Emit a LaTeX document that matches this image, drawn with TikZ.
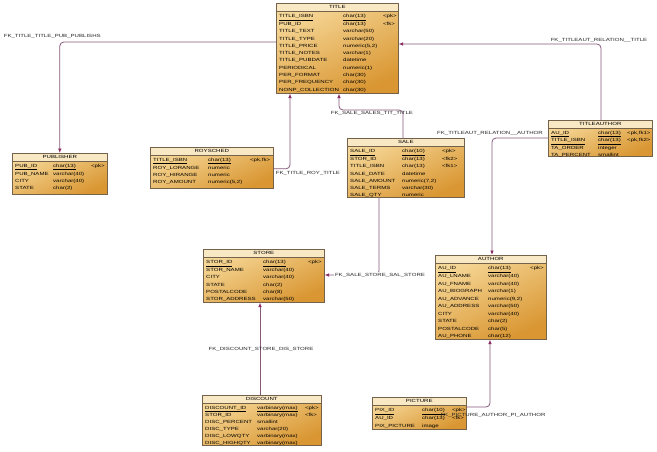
\documentclass[tikz,border=0pt]{standalone}
\usepackage{fontspec}
\newfontfamily\erfont{Liberation Sans}[FakeStretch=1.35]
\usetikzlibrary{arrows.meta}
\definecolor{boxtop}{HTML}{F6D898}
\definecolor{boxbot}{HTML}{D99632}
\definecolor{hdrfill}{HTML}{F8E8C4}
\definecolor{boxline}{HTML}{75624A}
\definecolor{fkline}{HTML}{86597C}
\definecolor{fkarrow}{HTML}{8A2A62}
\newcommand{\pkul}[1]{\underline{#1}}
\tikzset{
  tbl/.style={draw=boxline, line width=0.6pt, top color=boxtop, bottom color=boxbot, shading angle=25, anchor=north west, inner sep=0pt},
  hdr/.style={draw=boxline, line width=0.6pt, fill=hdrfill, anchor=north, minimum height=7.5pt, inner sep=0pt, font=\erfont\fontsize{4.5}{5}\selectfont},
  ertab/.style={anchor=north west, inner sep=0pt, align=left, font=\erfont\fontsize{4.5}{#1}\selectfont},
  fk/.style={draw=fkline, line width=0.8pt, rounded corners=4pt, -{Latex[length=4.5pt,width=3.6pt,color=fkarrow]}},
  fklbl/.style={font=\erfont\fontsize{4.5}{5}\selectfont, inner sep=0.6pt, text=black!85}
}
\begin{document}
\begin{tikzpicture}[x=1pt,y=-1pt]
\useasboundingbox[fill=white] (0,0) rectangle (657,451);

% ---------- TITLE ----------
\node[tbl, minimum width=122pt, minimum height=90pt] (title) at (276,3) {};
\node[hdr, minimum width=122pt] (titlehdr) at (title.north) {TITLE};
\node[ertab=7.3] (titlerows) at ([xshift=3pt,yshift=-1pt]titlehdr.south west) {%
\begin{tabular}{@{}p{64pt}@{}p{40pt}@{}l@{}}
\pkul{TITLE\_ISBN} & \pkul{char(13)} & <pk>\\
PUB\_ID & char(13) & <fk>\\
TITLE\_TEXT & varchar(50) & \\
TITLE\_TYPE & varchar(20) & \\
TITLE\_PRICE & numeric(5,2) & \\
TITLE\_NOTES & varchar(1) & \\
TITLE\_PUBDATE & datetime & \\
PERIODICAL & numeric(1) & \\
PER\_FORMAT & char(30) & \\
PER\_FREQUENCY & char(30) & \\
NONP\_COLLECTION & char(30) & \\
\end{tabular}};

% ---------- PUBLISHER ----------
\node[tbl, minimum width=95pt, minimum height=41pt] (publisher) at (12,153) {};
\node[hdr, minimum width=95pt] (publisherhdr) at (publisher.north) {PUBLISHER};
\node[ertab=7] (publisherrows) at ([xshift=3pt,yshift=-1pt]publisherhdr.south west) {%
\begin{tabular}{@{}p{38pt}@{}p{38pt}@{}l@{}}
\pkul{PUB\_ID} & \pkul{char(13)} & <pk>\\
PUB\_NAME & varchar(40) & \\
CITY & varchar(40) & \\
STATE & char(2) & \\
\end{tabular}};

% ---------- ROYSCHED ----------
\node[tbl, minimum width=123pt, minimum height=41pt] (roysched) at (150,147) {};
\node[hdr, minimum width=123pt] (roysr) at (roysched.north) {ROYSCHED};
\node[ertab=7] (royschedrows) at ([xshift=3pt,yshift=-1pt]roysr.south west) {%
\begin{tabular}{@{}p{55pt}@{}p{42pt}@{}l@{}}
\pkul{TITLE\_ISBN} & \pkul{char(13)} & <pk,fk>\\
ROY\_LORANGE & numeric & \\
ROY\_HIRANGE & numeric & \\
ROY\_AMOUNT & numeric(5,2) & \\
\end{tabular}};

% ---------- SALE ----------
\node[tbl, minimum width=117pt, minimum height=59pt] (sale) at (347,138) {};
\node[hdr, minimum width=117pt] (salehdr) at (sale.north) {SALE};
\node[ertab=7.3] (salerows) at ([xshift=3pt,yshift=-1pt]salehdr.south west) {%
\begin{tabular}{@{}p{52pt}@{}p{40pt}@{}l@{}}
\pkul{SALE\_ID} & \pkul{char(10)} & <pk>\\
STOR\_ID & char(13) & <fk2>\\
TITLE\_ISBN & char(13) & <fk1>\\
SALE\_DATE & datetime & \\
SALE\_AMOUNT & numeric(7,2) & \\
SALE\_TERMS & varchar(30) & \\
SALE\_QTY & numeric & \\
\end{tabular}};

% ---------- TITLEAUTHOR ----------
\node[tbl, minimum width=104pt, minimum height=36pt] (titleauthor) at (548,120) {};
\node[hdr, minimum width=104pt] (tahdr) at (titleauthor.north) {TITLEAUTHOR};
\node[ertab=6.8] (tarows) at ([xshift=3pt,yshift=-1pt]tahdr.south west) {%
\begin{tabular}{@{}p{47pt}@{}p{29pt}@{}l@{}}
\pkul{AU\_ID} & \pkul{char(13)} & <pk,fk1>\\
\pkul{TITLE\_ISBN} & \pkul{char(13)} & <pk,fk2>\\
TA\_ORDER & integer & \\
TA\_PERCENT & smallint & \\
\end{tabular}};

% ---------- STORE ----------
\node[tbl, minimum width=121pt, minimum height=53pt] (store) at (203,249) {};
\node[hdr, minimum width=121pt] (storehdr) at (store.north) {STORE};
\node[ertab=7.3] (storerows) at ([xshift=3pt,yshift=-1pt]storehdr.south west) {%
\begin{tabular}{@{}p{57pt}@{}p{45pt}@{}l@{}}
\pkul{STOR\_ID} & \pkul{char(13)} & <pk>\\
STOR\_NAME & varchar(40) & \\
CITY & varchar(40) & \\
STATE & char(2) & \\
POSTALCODE & char(8) & \\
STOR\_ADDRESS & varchar(50) & \\
\end{tabular}};

% ---------- AUTHOR ----------
\node[tbl, minimum width=111pt, minimum height=84pt] (author) at (435,255) {};
\node[hdr, minimum width=111pt] (authorhdr) at (author.north) {AUTHOR};
\node[ertab=7.5] (authorrows) at ([xshift=3pt,yshift=-1pt]authorhdr.south west) {%
\begin{tabular}{@{}p{50pt}@{}p{42pt}@{}l@{}}
\pkul{AU\_ID} & \pkul{char(13)} & <pk>\\
AU\_LNAME & varchar(40) & \\
AU\_FNAME & varchar(40) & \\
AU\_BIOGRAPH & varchar(1) & \\
AU\_ADVANCE & numeric(9,2) & \\
AU\_ADDRESS & varchar(50) & \\
CITY & varchar(40) & \\
STATE & char(2) & \\
POSTALCODE & char(5) & \\
AU\_PHONE & char(12) & \\
\end{tabular}};

% ---------- DISCOUNT ----------
\node[tbl, minimum width=119pt, minimum height=50pt] (discount) at (202,395) {};
\node[hdr, minimum width=119pt] (discounthdr) at (discount.north) {DISCOUNT};
\node[ertab=6.9] (discountrows) at ([xshift=3pt,yshift=-1pt]discounthdr.south west) {%
\begin{tabular}{@{}p{52pt}@{}p{48pt}@{}l@{}}
\pkul{DISCOUNT\_ID} & \pkul{varbinary(max)} & <pk>\\
STOR\_ID & varbinary(max) & <fk>\\
DISC\_PERCENT & smallint & \\
DISC\_TYPE & varchar(20) & \\
DISC\_LOWQTY & varbinary(max) & \\
DISC\_HIGHQTY & varbinary(max) & \\
\end{tabular}};

% ---------- PICTURE ----------
\node[tbl, minimum width=94pt, minimum height=32pt] (picture) at (372,397) {};
\node[hdr, minimum width=94pt] (picturehdr) at (picture.north) {PICTURE};
\node[ertab=7.5] (picturerows) at ([xshift=3pt,yshift=-1pt]picturehdr.south west) {%
\begin{tabular}{@{}p{47pt}@{}p{30pt}@{}l@{}}
\pkul{PIX\_ID} & \pkul{char(10)} & <pk>\\
AU\_ID & char(13) & <fk>\\
PIX\_PICTURE & image & \\
\end{tabular}};

% ---------- connectors ----------
\draw[fk] ([yshift=-39pt]title.north west) -| (publisher.north);
\node[fklbl, anchor=west] (lbl1) at (3,36) {FK\_TITLE\_TITLE\_PUB\_PUBLISHS};

\draw[fk] ([yshift=-1pt]roysched.east) -| ([xshift=14pt]title.south west);
\node[fklbl, anchor=west] (lbl2) at (275,173) {FK\_TITLE\_ROY\_TITLE};

\draw[fk] ([xshift=56pt]sale.north west) -- ++(0,-28) -| ([xshift=63pt]title.south west);
\node[fklbl] (lbl3) at (372,113) {FK\_SALE\_SALES\_TIT\_TITLE};

\draw[fk] ([xshift=53pt]titleauthor.north west) |- ([yshift=-41pt]title.north east);
\node[fklbl] (lbl4) at (599,40) {FK\_TITLEAUT\_RELATION\_\_TITLE};

\draw[fk] ([yshift=-18pt]titleauthor.north west) -| ([xshift=57pt]author.north west);
\node[fklbl] (lbl5) at (490,133) {FK\_TITLEAUT\_RELATION\_\_AUTHOR};

\draw[fk] ([xshift=32pt]sale.south west) |- ([yshift=-26pt]store.north east);
\node[fklbl, fill=white] (lbl6) at (380,275) {FK\_SALE\_STORE\_SAL\_STORE};

\draw[fk] ([xshift=58pt]discount.north west) -- ([xshift=58pt]discount.north west |- store.south);
\node[fklbl] (lbl7) at (261,349) {FK\_DISCOUNT\_STORE\_DIS\_STORE};

\draw[fk] ([yshift=-10pt]picture.north east) -| ([xshift=55pt]author.south west);
\node[fklbl] (lbl8) at (493,415) {FK\_PICTURE\_AUTHOR\_PI\_AUTHOR};
\end{tikzpicture}
\end{document}
